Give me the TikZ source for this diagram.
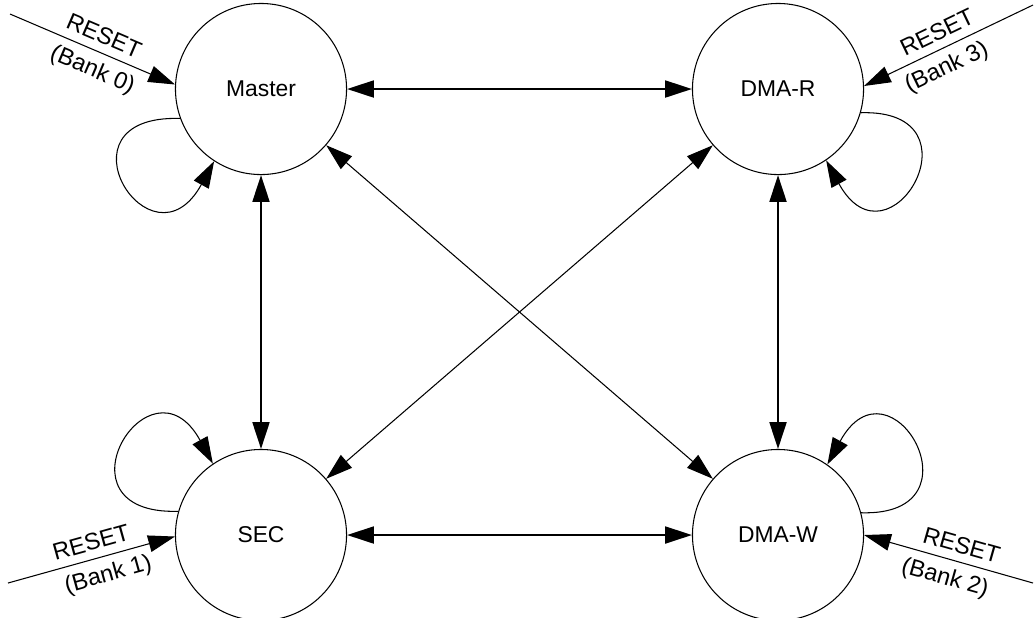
\documentclass[tikz,border=0pt]{standalone}
\usepackage{fontspec}
\setmainfont{Liberation Sans}
\usetikzlibrary{arrows.meta,calc}
\begin{document}
\begin{tikzpicture}[x=0.01cm,y=-0.01cm,
  >={Triangle[length=7.6pt,width=4.8pt]},
  state/.style={circle,draw,line width=0.3pt,minimum size=1.71cm,inner sep=0pt,font=\fontsize{6.5}{8}\selectfont},
  biglink/.style={line width=0.6pt,<->},
  diaglink/.style={line width=0.3pt,<->},
  loopline/.style={line width=0.3pt,->},
  resetline/.style={line width=0.3pt},
  lbl/.style={font=\fontsize{6.7}{8}\selectfont,sloped,inner sep=2.3pt}
]
\useasboundingbox (0,0) rectangle (1034,617);

\node[state] (M) at (261,89) {Master};
\node[state] (R) at (778,89) {DMA-R};
\node[state] (S) at (261,535) {SEC};
\node[state] (W) at (778,535) {DMA-W};

% main transitions
\draw[biglink] (M) -- (R);
\draw[biglink] (S) -- (W);
\draw[biglink] (M) -- (S);
\draw[biglink] (R) -- (W);
\draw[diaglink] (M) -- (W);
\draw[diaglink] (R) -- (S);

% self loops
\draw[loopline] (M.200.3) .. controls +(-130,-4) and +(-63,115) .. (M.237.7);
\draw[loopline] (R.344) .. controls +(125,-4) and +(63,115) .. (R.304.8);
\draw[loopline] (S.164.7) .. controls +(-130,4) and +(-63,-115) .. (S.124.8);
\draw[loopline] (W.15.5) .. controls +(125,4) and +(63,-115) .. (W.55.2);

% reset entries
\coordinate (r0) at (10,14);
\coordinate (r3) at (1033,5);
\coordinate (r1) at (8,583);
\coordinate (r2) at (1033,583);
\draw[resetline,->] (r0) -- (M.177.3)
  node[lbl,pos=0.53,above] {RESET}
  node[lbl,pos=0.545,below] {(Bank 0)};
\draw[resetline,<-] (R.2.7) -- (r3)
  node[lbl,pos=0.475,above] {RESET}
  node[lbl,pos=0.44,below] {(Bank 3)};
\draw[resetline,->] (r1) -- (S.181)
  node[lbl,pos=0.525,above] {RESET}
  node[lbl,pos=0.57,below] {(Bank 1)};
\draw[resetline,<-] (W.0) -- (r2)
  node[lbl,pos=0.55,above] {RESET}
  node[lbl,pos=0.51,below] {(Bank 2)};
\end{tikzpicture}
\end{document}
